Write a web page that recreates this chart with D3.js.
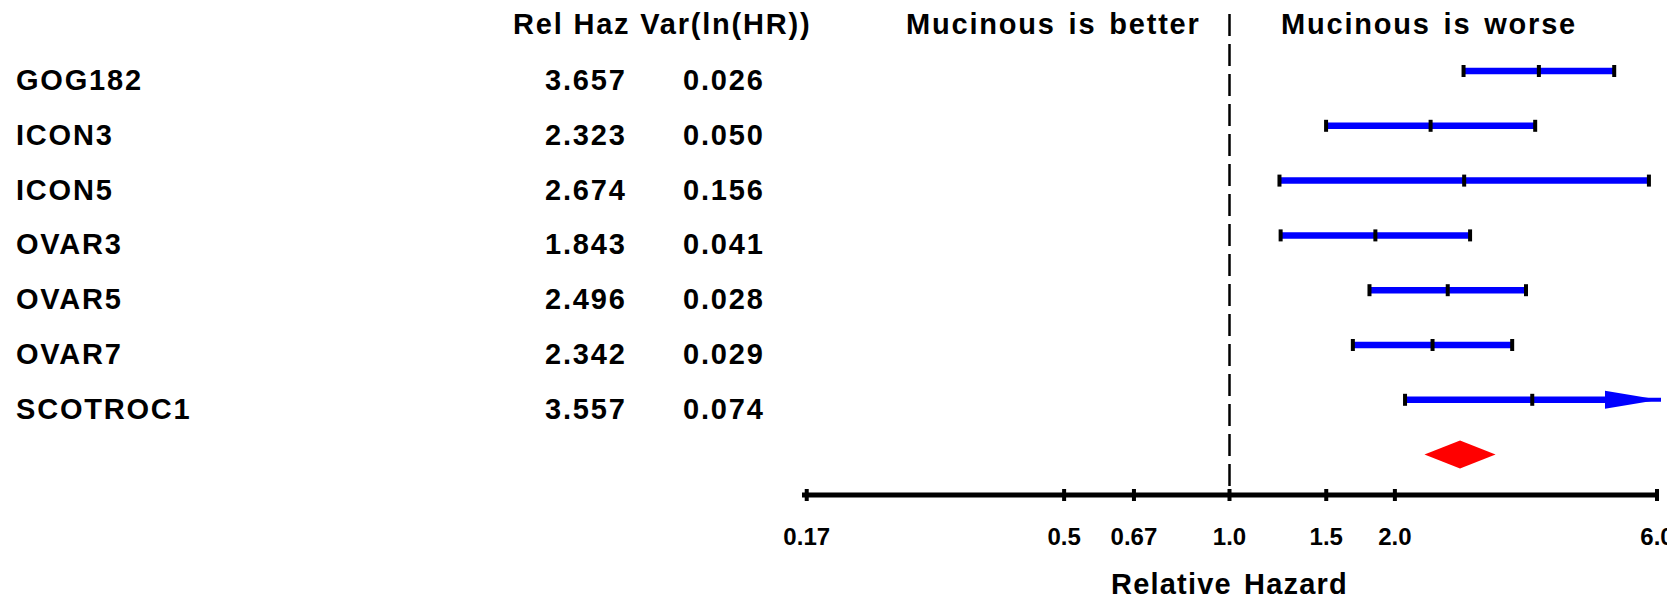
<!DOCTYPE html>
<html>
<head>
<meta charset="utf-8">
<script src="https://cdn.jsdelivr.net/npm/d3@7"></script>
<style>
  html, body { margin: 0; padding: 0; background: #fff; }
  svg { display: block; }
  text { font-family: "Liberation Sans", Arial, Helvetica, sans-serif; font-weight: bold; fill: #000; }
</style>
</head>
<body>
<svg id="chart" width="1667" height="599"></svg>
<script>
// ---- data ----
const studies   = ["GOG182", "ICON3", "ICON5", "OVAR3", "OVAR5", "OVAR7", "SCOTROC1"];
const relHaz    = [3.657, 2.323, 2.674, 1.843, 2.496, 2.342, 3.557];
const varLnHR   = [0.026, 0.050, 0.156, 0.041, 0.028, 0.029, 0.074];
const ciLower   = [2.667, 1.499, 1.233, 1.239, 1.798, 1.677, 2.087];
const ciUpper   = [5.015, 3.601, 5.800, 2.741, 3.465, 3.270, 6.063];
const pooledHR    = [2.628];
const pooledLower = [2.264];
const pooledUpper = [3.050];
const tickValues = [0.17, 0.5, 0.67, 1.0, 1.5, 2.0, 6.0];
const tickLabels = ["0.17", "0.5", "0.67", "1.0", "1.5", "2.0", "6.0"];
const axisDomain = [1 / 6, 6];
const headerText = "Rel Haz Var(ln(HR))";
const betterText = "Mucinous is better";
const worseText  = "Mucinous is worse";
const axisTitle  = "Relative Hazard";

// ---- layout ----
const svg = d3.select("#chart");
const x = d3.scaleLog().domain(axisDomain).range([802, 1657]);
const y = d3.scaleLinear().domain([0, 7]).range([71, 454.6]);
const axisY = 495;
const blue = "#0000ff", red = "#ff0000";
const FS = "29px", LS = "1.8px";

// header
svg.append("text").attr("x", 513).attr("y", 34).style("letter-spacing", LS)
  .style("font-size", FS).text(headerText);
svg.append("text").attr("x", 906).attr("y", 34).style("letter-spacing", LS)
  .style("font-size", FS).style("word-spacing", "3px").text(betterText);
svg.append("text").attr("x", 1281).attr("y", 34).style("letter-spacing", LS)
  .style("font-size", FS).style("word-spacing", "3px").text(worseText);

// dashed reference line at HR = 1
svg.append("line")
  .attr("x1", x(1)).attr("x2", x(1))
  .attr("y1", 14).attr("y2", axisY)
  .attr("stroke", "#000").attr("stroke-width", 2.5)
  .attr("stroke-dasharray", "22,8");

// row texts
const rows = studies.map((s, i) => ({
  name: s, hr: relHaz[i], v: varLnHR[i], lo: ciLower[i], hi: ciUpper[i], i
}));
const rowG = svg.append("g");
rowG.selectAll("text.name").data(rows).join("text").attr("class", "name")
  .attr("x", 16).attr("y", d => y(d.i) + 19)
  .style("font-size", FS).style("letter-spacing", LS).text(d => d.name);
rowG.selectAll("text.hr").data(rows).join("text").attr("class", "hr")
  .attr("x", 545).attr("y", d => y(d.i) + 19)
  .style("font-size", FS).style("letter-spacing", LS).text(d => d.hr.toFixed(3));
rowG.selectAll("text.var").data(rows).join("text").attr("class", "var")
  .attr("x", 683).attr("y", d => y(d.i) + 19)
  .style("font-size", FS).style("letter-spacing", LS).text(d => d.v.toFixed(3));

// CI bars
const xMax = axisDomain[1];
const barG = svg.append("g");
rows.forEach(d => {
  const yy = y(d.i);
  const clipped = d.hi > xMax;
  const x0 = x(d.lo);
  const xEnd = x(Math.min(d.hi, xMax));
  const headLen = 52;
  barG.append("line")
    .attr("x1", x0).attr("x2", clipped ? xEnd - headLen + 2 : xEnd)
    .attr("y1", yy).attr("y2", yy)
    .attr("stroke", blue).attr("stroke-width", 6.5);
  if (clipped) {
    barG.append("path")
      .attr("d", `M${xEnd - headLen},${yy - 9}L${xEnd + 2},${yy}L${xEnd - headLen},${yy + 9}Z`)
      .attr("fill", blue);
    barG.append("line")
      .attr("x1", xEnd - headLen).attr("x2", xEnd + 4)
      .attr("y1", yy).attr("y2", yy)
      .attr("stroke", blue).attr("stroke-width", 4);
  }
  const caps = clipped ? [d.lo, d.hr] : [d.lo, d.hr, d.hi];
  caps.forEach(c => {
    barG.append("rect")
      .attr("x", x(c) - 2).attr("y", yy - 6)
      .attr("width", 4).attr("height", 12)
      .attr("fill", "#000");
  });
});

// pooled diamond
const py = y(7);
svg.append("path")
  .attr("d", `M${x(pooledLower[0])},${py}L${x(pooledHR[0])},${py - 14}L${x(pooledUpper[0])},${py}L${x(pooledHR[0])},${py + 14}Z`)
  .attr("fill", red);

// axis
const axisG = svg.append("g");
axisG.append("line")
  .attr("x1", x(axisDomain[0])).attr("x2", x(axisDomain[1]))
  .attr("y1", axisY).attr("y2", axisY)
  .attr("stroke", "#000").attr("stroke-width", 5);
axisG.selectAll("rect.tick").data(tickValues).join("rect").attr("class", "tick")
  .attr("x", d => x(d) - 2).attr("y", axisY - 6)
  .attr("width", 4).attr("height", 12).attr("fill", "#000");
axisG.selectAll("text.tl").data(tickValues).join("text").attr("class", "tl")
  .attr("x", d => x(d)).attr("y", 545)
  .attr("text-anchor", "middle")
  .style("font-size", "24px")
  .text((d, i) => tickLabels[i]);
svg.append("text")
  .attr("x", x(1)).attr("y", 594).attr("text-anchor", "middle")
  .style("font-size", FS).style("letter-spacing", "1.2px").style("word-spacing", "3px")
  .text(axisTitle);
</script>
</body>
</html>
